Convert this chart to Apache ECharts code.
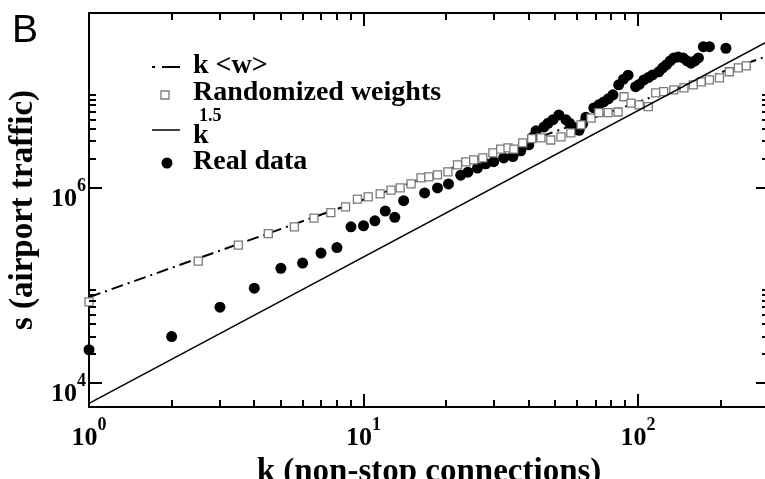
<!DOCTYPE html>
<html>
<head>
<meta charset="utf-8">
<script src="https://cdn.jsdelivr.net/npm/echarts@6/dist/echarts.min.js"></script>
<style>
  html, body { margin: 0; padding: 0; background: #fff; }
  #chart { width: 765px; height: 479px; }
</style>
</head>
<body>
<div id="chart"></div>
<script>
// strength s vs degree k
var realK = [1, 2, 3, 4, 5, 6, 7, 8, 9, 10, 11, 12, 13, 14, 16.7, 18.6, 20.4, 22.6, 24, 26, 27.9, 29.8, 32.4, 35, 37.4, 40,
  41.3, 42.5, 45.4, 47, 49, 51.5, 54.6, 56.3, 58, 59.5, 61, 62.8, 64.6,
  69, 72, 75, 78, 81, 85, 88.5, 92, 98, 101, 105, 109, 113, 119, 123, 127, 131, 135, 140, 146, 151, 156, 161, 166, 173, 182, 209];
var realS = [2.2e4, 3.0e4, 6.0e4, 9.4e4, 1.5e5, 1.7e5, 2.15e5, 2.45e5, 4.0e5, 4.1e5, 4.6e5, 5.8e5, 5.0e5, 7.4e5,
  8.9e5, 1.0e6, 1.1e6, 1.35e6, 1.45e6, 1.6e6, 1.77e6, 1.86e6, 2.03e6, 2.1e6, 2.4e6, 2.77e6,
  3.3e6, 3.85e6, 4.2e6, 4.6e6, 5.0e6, 5.6e6, 5.0e6, 4.6e6, 4.2e6, 4.0e6, 3.9e6, 4.5e6, 5.3e6,
  6.6e6, 7.1e6, 7.6e6, 8.2e6, 9.0e6, 1.14e7, 1.3e7, 1.43e7, 1.09e7, 1.15e7, 1.28e7, 1.35e7, 1.44e7, 1.55e7,
  1.7e7, 1.83e7, 2.0e7, 2.15e7, 2.2e7, 2.15e7, 2.0e7, 1.9e7, 2.0e7, 2.15e7, 2.8e7, 2.8e7, 2.7e7];

var randK = [1, 2.5, 3.5, 4.5, 5.6, 6.6, 7.6, 8.6, 9.5, 10.4, 11.5, 12.6, 13.6, 14.9, 16.2, 17.3,
  18.6, 20.3, 22, 23.6, 25.2, 27.2, 29.6, 31.6, 33.6, 35.3, 38, 41, 44.3, 48.1, 52.4, 56.9,
  62, 67.4, 72, 77.8, 84.6, 88.9, 94.3, 101, 109, 116, 124, 135, 147, 159, 170, 182, 198, 215, 232, 248];
var randS = [6.8e4, 1.78e5, 2.6e5, 3.4e5, 4.0e5, 4.9e5, 5.6e5, 6.4e5, 7.7e5, 8.1e5, 8.7e5, 9.5e5, 1.0e6, 1.1e6, 1.27e6, 1.3e6,
  1.36e6, 1.46e6, 1.72e6, 1.85e6, 1.94e6, 2.03e6, 2.29e6, 2.5e6, 2.57e6, 2.5e6, 2.9e6, 3.2e6, 3.26e6, 3.1e6, 3.33e6, 3.66e6,
  4.43e6, 5.2e6, 5.9e6, 5.9e6, 6.0e6, 8.6e6, 7.4e6, 7.1e6, 6.8e6, 9.4e6, 9.7e6, 1.01e7, 1.06e7, 1.14e7, 1.22e7, 1.28e7,
  1.34e7, 1.55e7, 1.7e7, 1.78e7];

// the two reference lines, given by their end points
var lineK = [1, 300];
var kwS = [7.6e4, 2.28e7];   // k <w>
var k15S = [6.2e3, 3.22e7];  // k^1.5

var xMajor = [1, 10, 100];
var xMinor = [2, 3, 4, 5, 6, 7, 8, 9, 20, 30, 40, 50, 60, 70, 80, 90, 200];
var yMajor = [1e4, 1e6];
var yMinor = [2e4, 3e4, 4e4, 5e4, 6e4, 7e4, 8e4, 9e4, 2e6, 3e6, 4e6, 5e6, 6e6, 7e6, 8e6, 9e6];

var X_MIN = 1, X_MAX = 300, Y_MIN = 5700, Y_MAX = 6.2e7;
var G = { left: 89, top: 13, width: 680, height: 394 };

var serif = '"Liberation Serif", "Times New Roman", serif';

function pairs(xs, ys) {
  var out = [];
  for (var i = 0; i < xs.length; i++) out.push([xs[i], ys[i]]);
  return out;
}

function powLabel(v) {
  var e = Math.round(Math.log(v) / Math.LN10);
  return '{b|10}{sup|' + e + '}';
}

var labelRich = {
  b: { fontSize: 26, fontWeight: 'bold', fontFamily: serif, color: '#000', padding: [10, 0, 0, 0] },
  sup: { fontSize: 18, fontWeight: 'bold', fontFamily: serif, color: '#000', padding: [0, 0, 16, 0] }
};

var frame = { show: true, onZero: false, lineStyle: { color: '#000', width: 2 } };
var titleStyle = { fontSize: 33, fontWeight: 'bold', fontFamily: serif, color: '#000' };

var chart = echarts.init(document.getElementById('chart'), null, { renderer: 'canvas' });

var option = {
  animation: false,
  backgroundColor: '#fff',
  grid: { left: G.left, top: G.top, width: G.width, height: G.height, containLabel: false, outerBoundsMode: 'none' },
  xAxis: [
    {
      type: 'log', min: X_MIN, max: X_MAX, position: 'bottom',
      axisLine: frame, axisTick: { show: false }, splitLine: { show: false },
      axisLabel: { customValues: xMajor, margin: 8, formatter: powLabel, rich: labelRich },
      name: 'k (non-stop connections)', nameLocation: 'middle', nameGap: 36, nameTextStyle: titleStyle
    },
    {
      type: 'log', min: X_MIN, max: X_MAX, position: 'top',
      axisLine: frame, axisTick: { show: false }, axisLabel: { show: false }, splitLine: { show: false }
    }
  ],
  yAxis: [
    {
      type: 'log', min: Y_MIN, max: Y_MAX, position: 'left',
      axisLine: frame, axisTick: { show: false }, splitLine: { show: false },
      axisLabel: { customValues: yMajor, margin: 3, padding: [12, 0, 0, 0], formatter: powLabel, rich: labelRich },
      name: 's (airport traffic)', nameLocation: 'middle', nameGap: 46, nameTextStyle: titleStyle
    },
    {
      type: 'log', min: Y_MIN, max: Y_MAX, position: 'right',
      axisLine: frame, axisTick: { show: false }, axisLabel: { show: false }, splitLine: { show: false }
    }
  ],
  series: [
    {
      name: 'k <w>', type: 'line', z: 1,
      data: pairs(lineK, kwS), symbol: 'none',
      lineStyle: { color: '#000', width: 2, type: [12, 5, 2, 5] }
    },
    {
      name: 'Real data', type: 'scatter', z: 3, clip: false,
      data: pairs(realK, realS), symbol: 'circle', symbolSize: 11,
      itemStyle: { color: '#000', opacity: 1 }
    },
    {
      name: 'Randomized weights', type: 'scatter', z: 4, clip: false,
      data: pairs(randK, randS), symbol: 'rect', symbolSize: 8,
      itemStyle: { color: '#fff', borderColor: '#7a7a7a', borderWidth: 1.3, opacity: 1 }
    },
    {
      name: 'k^1.5', type: 'line', z: 5,
      data: pairs(lineK, k15S), symbol: 'none',
      lineStyle: { color: '#000', width: 1.5 }
    }
  ]
};

chart.setOption(option);

// tick marks on all four sides (log positions inside the grid box)
var edgeL = G.left, edgeR = G.left + G.width, edgeT = G.top, edgeB = G.top + G.height;
function lg(v) { return Math.log(v) / Math.LN10; }
function px(v) {
  var p = Number(chart.convertToPixel({ xAxisIndex: 0, yAxisIndex: 0 }, [v, Y_MIN])[0]);
  if (!isFinite(p) || p < edgeL - 1 || p > edgeR + 1) {
    p = edgeL + G.width * (lg(v) - lg(X_MIN)) / (lg(X_MAX) - lg(X_MIN));
  }
  return p;
}
function py(v) {
  var p = Number(chart.convertToPixel({ xAxisIndex: 0, yAxisIndex: 0 }, [X_MIN, v])[1]);
  if (!isFinite(p) || p < edgeT - 1 || p > edgeB + 1) {
    p = edgeB - G.height * (lg(v) - lg(Y_MIN)) / (lg(Y_MAX) - lg(Y_MIN));
  }
  return p;
}

var els = [];
function bar(x, y, w, h) {
  els.push({ type: 'rect', silent: true, z: 100, zlevel: 1, shape: { x: x, y: y, width: w, height: h }, style: { fill: '#000' } });
}
function addX(vals, len) {
  vals.forEach(function (v) {
    var x = Math.round(px(v)) - 1;
    bar(x, edgeB - len, 2, len);
    bar(x, edgeT, 2, len);
  });
}
function addY(vals, len) {
  vals.forEach(function (v) {
    var y = Math.round(py(v)) - 1;
    bar(edgeL, y, len, 2);
    bar(edgeR - len, y, len, 2);
  });
}
addX(xMajor, 13); addX(xMinor, 7);
addY(yMajor, 13); addY(yMinor, 7);

// panel letter and legend
var legendFont = 'bold 28px ' + serif;
els.push(
  { type: 'text', left: 12, top: 12, style: { text: 'B', font: '39px "Liberation Sans", Arial, sans-serif', fill: '#000' } },
  { type: 'line', shape: { x1: 152, y1: 67, x2: 155, y2: 67 }, style: { stroke: '#000', lineWidth: 2 } },
  { type: 'line', shape: { x1: 162, y1: 67, x2: 180, y2: 67 }, style: { stroke: '#000', lineWidth: 2 } },
  { type: 'text', x: 193, y: 66, style: { text: 'k <w>', font: legendFont, fill: '#000', verticalAlign: 'middle' } },
  { type: 'rect', shape: { x: 161, y: 91, width: 8, height: 8 }, style: { fill: '#fff', stroke: '#7a7a7a', lineWidth: 1.3 } },
  { type: 'text', x: 193, y: 93, style: { text: 'Randomized weights', font: legendFont, fill: '#000', verticalAlign: 'middle' } },
  { type: 'line', shape: { x1: 152, y1: 130, x2: 180, y2: 130 }, style: { stroke: '#000', lineWidth: 1.5 } },
  { type: 'text', x: 193, y: 136, style: { text: 'k', font: legendFont, fill: '#000', verticalAlign: 'middle' } },
  { type: 'text', x: 199, y: 116, style: { text: '1.5', font: 'bold 18px ' + serif, fill: '#000', verticalAlign: 'middle' } },
  { type: 'circle', shape: { cx: 167, cy: 163, r: 5.5 }, style: { fill: '#000' } },
  { type: 'text', x: 193, y: 162, style: { text: 'Real data', font: legendFont, fill: '#000', verticalAlign: 'middle' } }
);

chart.setOption({ graphic: els });
</script>
</body>
</html>
